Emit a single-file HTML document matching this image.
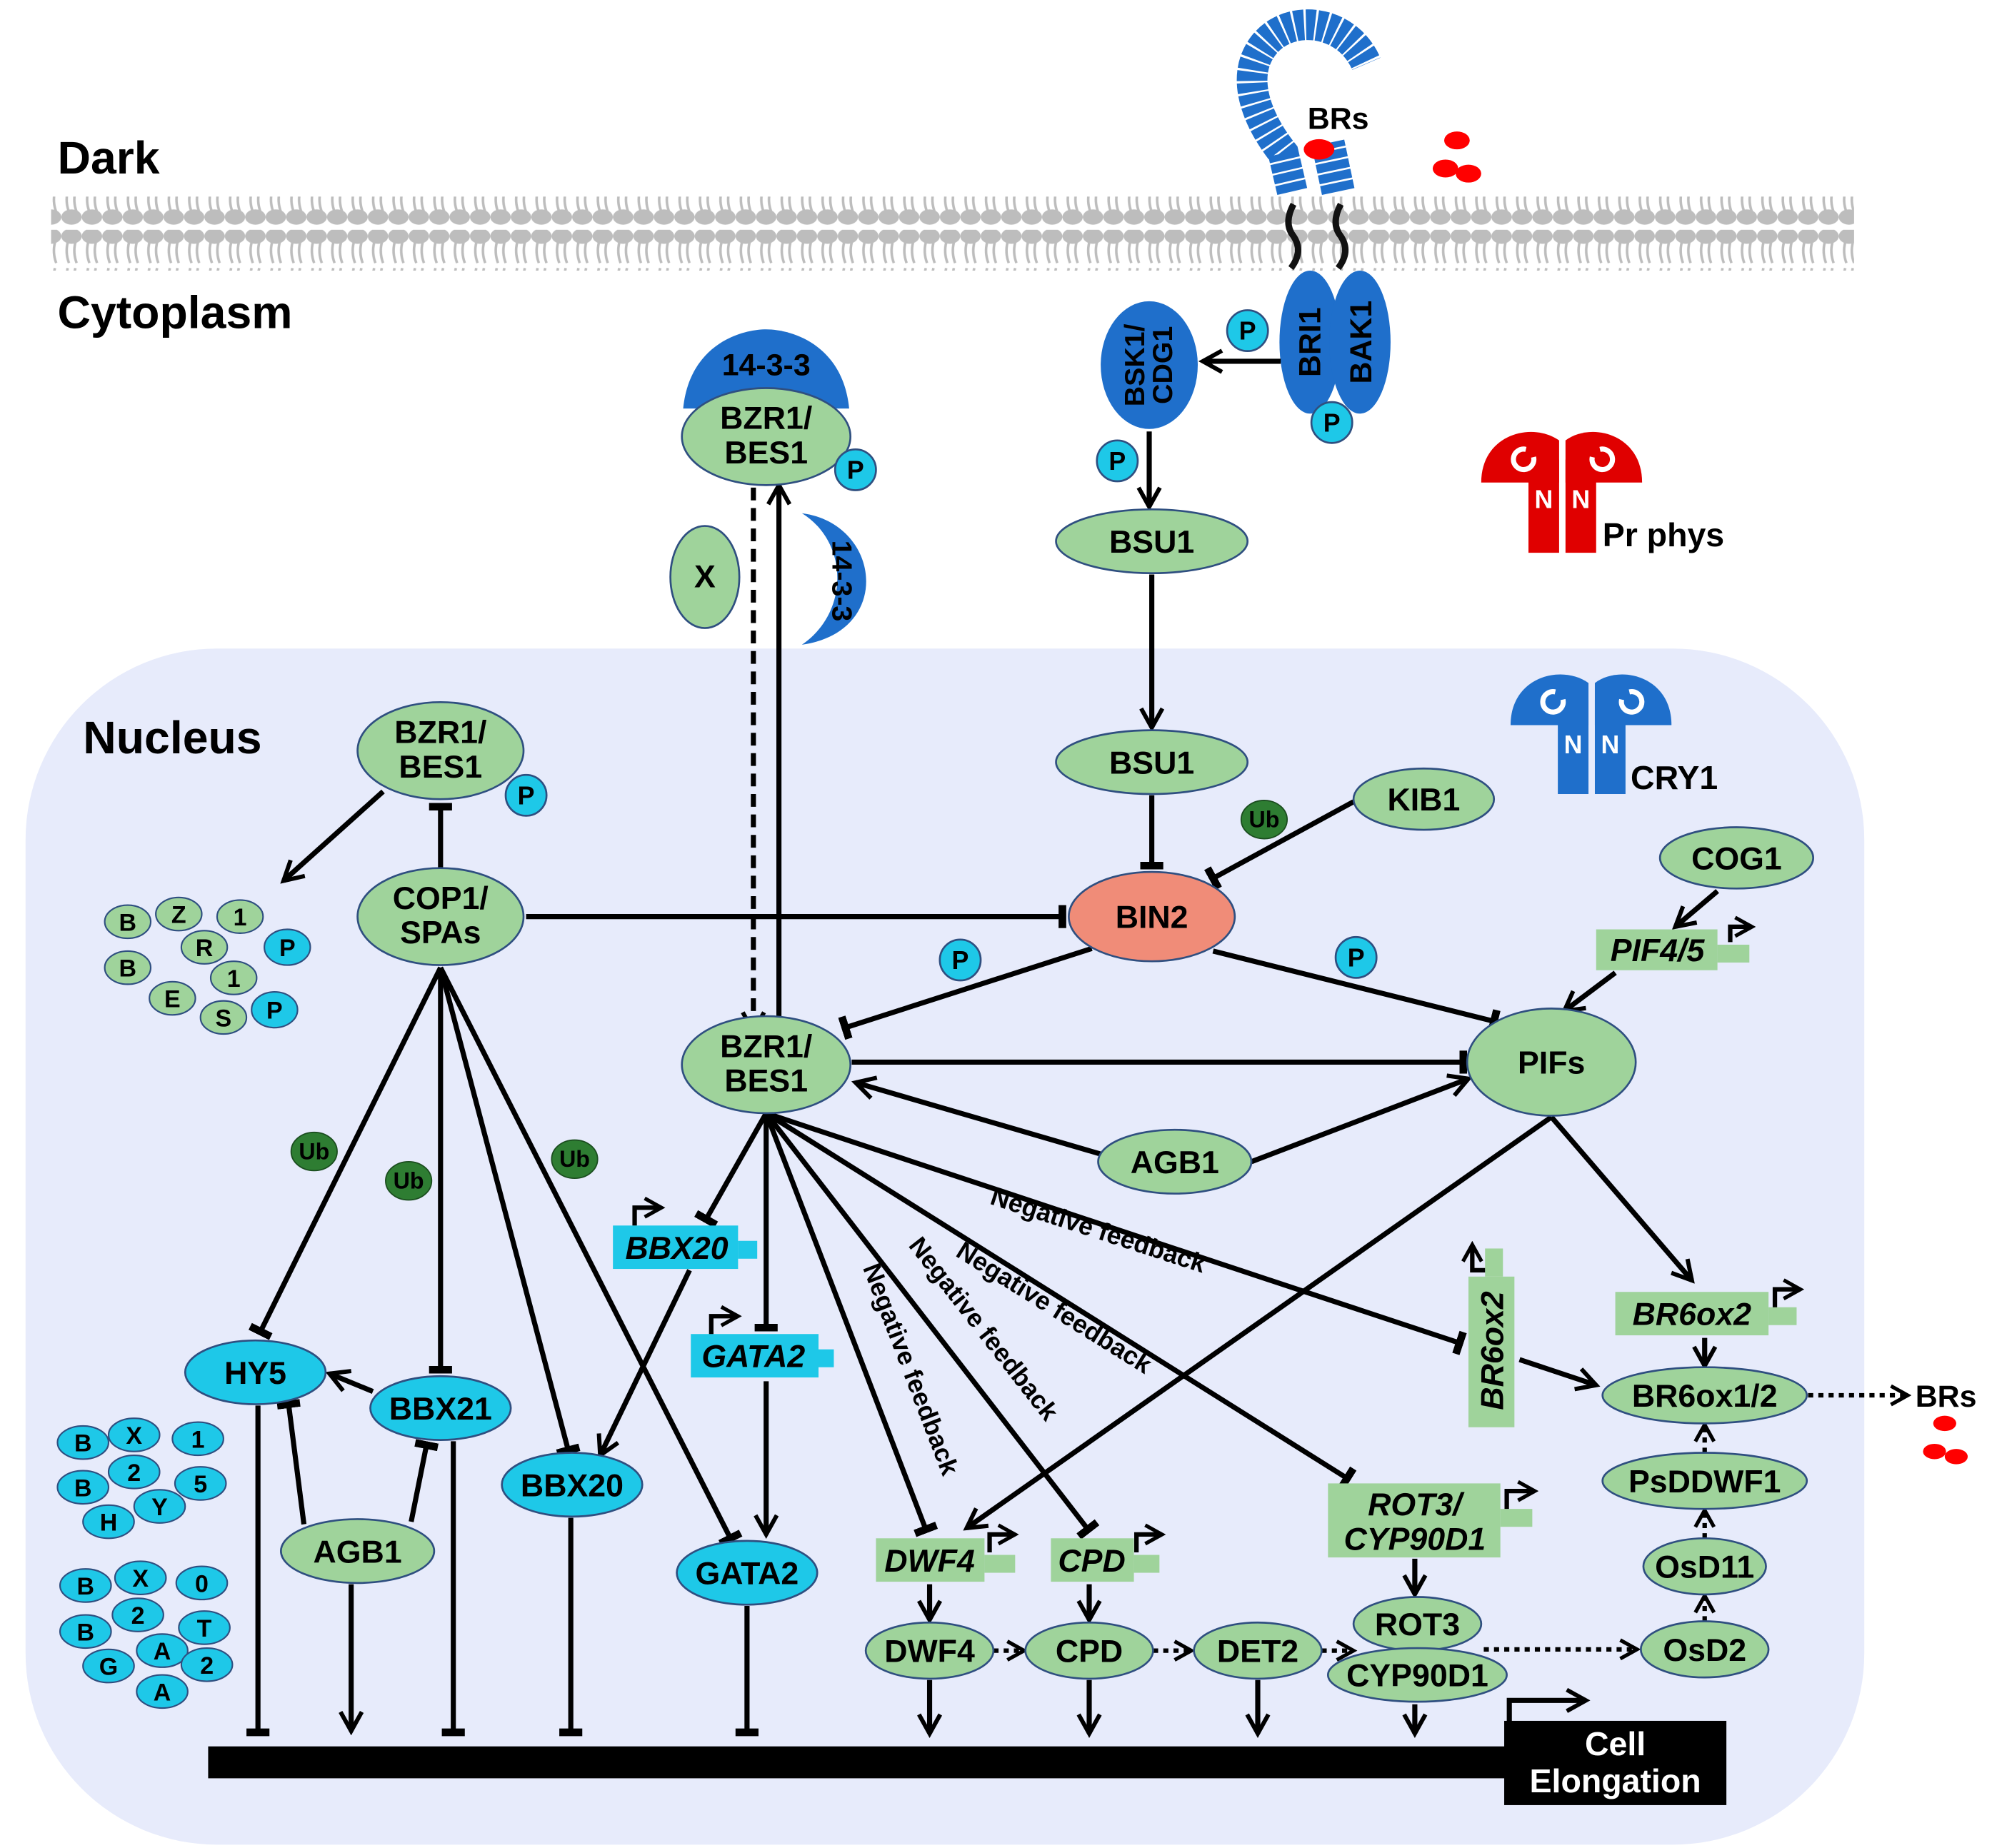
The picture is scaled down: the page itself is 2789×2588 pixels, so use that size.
<!DOCTYPE html>
<html><head><meta charset="utf-8"><style>
html,body{margin:0;padding:0;background:#fff;}
svg{display:block;}
text{font-family:"Liberation Sans",Arial,sans-serif;font-weight:bold;}
</style></head><body>
<svg width="2789" height="2588" viewBox="0 0 1560 1447.6" xmlns="http://www.w3.org/2000/svg">
<defs>
<marker id="a" viewBox="0 0 12 12" refX="10" refY="6" markerWidth="5" markerHeight="5" orient="auto" markerUnits="strokeWidth">
<path d="M1,1 L10,6 L1,11" fill="none" stroke="#000" stroke-width="2"/></marker>
<marker id="t" viewBox="0 0 4 12" refX="2" refY="6" markerWidth="1.5" markerHeight="8" orient="auto" markerUnits="strokeWidth">
<rect x="0" y="0" width="4" height="12" fill="#000"/></marker>
<pattern id="mem" x="0" y="0" width="16" height="60" patternUnits="userSpaceOnUse">
<ellipse cx="8" cy="5" rx="8" ry="6" fill="#bdbdbd"/>
<path d="M5,10 q-2,8 1,16 M11,10 q-2,8 1,16" stroke="#bdbdbd" stroke-width="2" fill="none"/>
<path d="M5,30 q-2,8 1,16 M11,30 q-2,8 1,16" stroke="#bdbdbd" stroke-width="2" fill="none"/>
<ellipse cx="8" cy="50" rx="8" ry="6" fill="#bdbdbd"/>
</pattern>
</defs>
<rect width="1560" height="1448" fill="#fff"/>
<rect x="20" y="508" width="1440" height="937" rx="150" fill="#e7ebfb"/>
<rect x="40" y="154" width="1412" height="58" fill="url(#mem)"/>
<text x="45" y="136" font-size="36">Dark</text>
<text x="45" y="257" font-size="36">Cytoplasm</text>
<text x="65" y="590" font-size="36">Nucleus</text>

<path d="M1012,150 L1005,120 C985,95 970,60 990,35 C1010,10 1055,15 1070,50" fill="none" stroke="#1f6fcb" stroke-width="24" stroke-dasharray="7 1.5"/>
<path d="M1048,150 L1040,112" fill="none" stroke="#1f6fcb" stroke-width="26" stroke-dasharray="7 1.5"/>
<ellipse cx="1033" cy="117" rx="12" ry="8" fill="#f00"/>
<text x="1048" y="101" font-size="24" text-anchor="middle">BRs</text>
<ellipse cx="1141" cy="110" rx="10" ry="7" fill="#f00"/>
<ellipse cx="1132" cy="132" rx="10" ry="7" fill="#f00"/>
<ellipse cx="1150" cy="136" rx="10" ry="7" fill="#f00"/>
<path d="M1013,160 q-8,15 0,25 q8,12 -2,25 M1050,160 q-8,15 0,25 q8,12 -2,25" stroke="#111" stroke-width="5" fill="none"/>
<ellipse cx="1026" cy="268" rx="24" ry="56" fill="#1f6fcb"/>
<ellipse cx="1065" cy="268" rx="24" ry="56" fill="#1f6fcb"/>
<text transform="translate(1034,268) rotate(-90)" font-size="24" text-anchor="middle">BRI1</text>
<text transform="translate(1074,268) rotate(-90)" font-size="24" text-anchor="middle">BAK1</text>
<ellipse cx="900" cy="286" rx="38" ry="50" fill="#1f6fcb"/>
<text transform="translate(896,286) rotate(-90)" font-size="22" text-anchor="middle">BSK1/</text>
<text transform="translate(918,286) rotate(-90)" font-size="22" text-anchor="middle">CDG1</text>

<g fill="#e00000">
<rect x="1197" y="360" width="24" height="73"/><rect x="1226" y="360" width="24" height="73"/>
<path d="M1160,378 C1160,340 1200,330 1221,345 L1221,378 Z"/>
<path d="M1286,378 C1286,340 1246,330 1226,345 L1226,378 Z"/>
</g>
<path d="M1195,352 a8,8 0 1,0 6,6 M1253,352 a8,8 0 1,1 -6,6" stroke="#fff" stroke-width="4" fill="none"/>
<text x="1209" y="398" font-size="20" fill="#fff" text-anchor="middle">N</text>
<text x="1238" y="398" font-size="20" fill="#fff" text-anchor="middle">N</text>
<text x="1255" y="428" font-size="26">Pr phys</text>
<g fill="#1f6fcb">
<rect x="1220" y="548" width="24" height="74"/><rect x="1249" y="548" width="24" height="74"/>
<path d="M1183,568 C1183,530 1223,520 1244,535 L1244,568 Z"/>
<path d="M1309,568 C1309,530 1269,520 1249,535 L1249,568 Z"/>
</g>
<path d="M1218,542 a8,8 0 1,0 6,6 M1276,542 a8,8 0 1,1 -6,6" stroke="#fff" stroke-width="4" fill="none"/>
<text x="1232" y="590" font-size="20" fill="#fff" text-anchor="middle">N</text>
<text x="1261" y="590" font-size="20" fill="#fff" text-anchor="middle">N</text>
<text x="1277" y="618" font-size="26">CRY1</text>

<path d="M535,320 C540,270 580,258 600,258 C620,258 660,270 665,320 Z" fill="#1f6fcb"/>
<text x="600" y="294" font-size="24" text-anchor="middle">14-3-3</text>
<path d="M628,402 C690,410 700,495 628,505 C665,480 665,425 628,402 Z" fill="#1f6fcb"/>
<text transform="translate(652,455) rotate(90)" font-size="22" text-anchor="middle">14-3-3</text>

<g stroke="#000" stroke-width="4" fill="none">
<line x1="1003" y1="283" x2="942" y2="283" marker-end="url(#a)"/>
<line x1="900" y1="338" x2="900" y2="397" marker-end="url(#a)"/>
<line x1="902" y1="450" x2="902" y2="570" marker-end="url(#a)"/>
<line x1="902" y1="623" x2="902" y2="678" marker-end="url(#t)"/>
<line x1="1060" y1="628" x2="950" y2="688" marker-end="url(#t)"/>
<line x1="412" y1="718" x2="832" y2="718" marker-end="url(#t)"/>
<line x1="855" y1="743" x2="662" y2="805" marker-end="url(#t)"/>
<line x1="950" y1="745" x2="1170" y2="800" marker-end="url(#t)"/>
<line x1="667" y1="832" x2="1146" y2="832" marker-end="url(#t)"/>
<line x1="862" y1="904" x2="670" y2="848" marker-end="url(#a)"/>
<line x1="980" y1="910" x2="1150" y2="845" marker-end="url(#a)"/>
<line x1="1345" y1="698" x2="1312" y2="726" marker-end="url(#a)"/>
<line x1="1265" y1="762" x2="1225" y2="792" marker-end="url(#a)"/>
<line x1="610" y1="808" x2="610" y2="380" marker-end="url(#a)"/>
<line x1="590" y1="382" x2="590" y2="808" stroke-dasharray="10 6" marker-end="url(#a)"/>
<line x1="300" y1="620" x2="222" y2="690" marker-end="url(#a)"/>
<line x1="345" y1="680" x2="345" y2="632" marker-end="url(#t)"/>
<line x1="345" y1="758" x2="204" y2="1043" marker-end="url(#t)"/>
<line x1="345" y1="758" x2="345" y2="1073" marker-end="url(#t)"/>
<line x1="345" y1="758" x2="445" y2="1136" marker-end="url(#t)"/>
<line x1="345" y1="758" x2="572" y2="1205" marker-end="url(#t)"/>
<line x1="600" y1="872" x2="553" y2="955" marker-end="url(#t)"/>
<line x1="540" y1="995" x2="470" y2="1140" marker-end="url(#a)"/>
<line x1="600" y1="872" x2="600" y2="1040" marker-end="url(#t)"/>
<line x1="600" y1="1082" x2="600" y2="1202" marker-end="url(#a)"/>
<line x1="600" y1="872" x2="725" y2="1198" marker-end="url(#t)"/>
<line x1="600" y1="872" x2="852" y2="1198" marker-end="url(#t)"/>
<line x1="600" y1="872" x2="1055" y2="1158" marker-end="url(#t)"/>
<line x1="600" y1="872" x2="1143" y2="1052" marker-end="url(#t)"/>
<line x1="1215" y1="875" x2="757" y2="1197" marker-end="url(#a)"/>
<line x1="1215" y1="875" x2="1325" y2="1003" marker-end="url(#a)"/>
<line x1="1190" y1="1065" x2="1250" y2="1085" marker-end="url(#a)"/>
<line x1="1335" y1="1048" x2="1335" y2="1070" marker-end="url(#a)"/>
<line x1="728" y1="1241" x2="728" y2="1269" marker-end="url(#a)"/>
<line x1="853" y1="1241" x2="853" y2="1269" marker-end="url(#a)"/>
<line x1="1108" y1="1221" x2="1108" y2="1249" marker-end="url(#a)"/>
<line x1="728" y1="1316" x2="728" y2="1358" marker-end="url(#a)"/>
<line x1="853" y1="1316" x2="853" y2="1358" marker-end="url(#a)"/>
<line x1="985" y1="1316" x2="985" y2="1358" marker-end="url(#a)"/>
<line x1="1108" y1="1335" x2="1108" y2="1358" marker-end="url(#a)"/>
<line x1="202" y1="1101" x2="202" y2="1357" marker-end="url(#t)"/>
<line x1="275" y1="1241" x2="275" y2="1356" marker-end="url(#a)"/>
<line x1="355" y1="1129" x2="355" y2="1357" marker-end="url(#t)"/>
<line x1="447" y1="1189" x2="447" y2="1357" marker-end="url(#t)"/>
<line x1="585" y1="1258" x2="585" y2="1357" marker-end="url(#t)"/>
<line x1="238" y1="1194" x2="226" y2="1100" marker-end="url(#t)"/>
<line x1="322" y1="1192" x2="334" y2="1132" marker-end="url(#t)"/>
<line x1="292" y1="1090" x2="258" y2="1076" marker-end="url(#a)"/>
<path d="M1182,1352 V1332 H1242" marker-end="url(#a)"/>
</g>
<g stroke="#000" stroke-width="3.5" fill="none" stroke-dasharray="4 4">
<line x1="1416" y1="1093" x2="1494" y2="1093" marker-end="url(#a)"/>
<line x1="1335" y1="1138" x2="1335" y2="1116" marker-end="url(#a)"/>
<line x1="1335" y1="1205" x2="1335" y2="1183" marker-end="url(#a)"/>
<line x1="1335" y1="1270" x2="1335" y2="1250" marker-end="url(#a)"/>
<line x1="1162" y1="1292" x2="1282" y2="1292" marker-end="url(#a)"/>
<line x1="778" y1="1293" x2="802" y2="1293" marker-end="url(#a)"/>
<line x1="903" y1="1293" x2="933" y2="1293" marker-end="url(#a)"/>
<line x1="1035" y1="1293" x2="1060" y2="1293" marker-end="url(#a)"/>
</g>

<g font-size="20">
<text transform="translate(707,1075) rotate(69)" text-anchor="middle">Negative feedback</text>
<text transform="translate(765,1045) rotate(52)" text-anchor="middle">Negative feedback</text>
<text transform="translate(822,1030) rotate(32)" text-anchor="middle">Negative feedback</text>
<text transform="translate(858,970) rotate(18)" text-anchor="middle">Negative feedback</text>
</g>

<rect x="163" y="1368" width="1020" height="25" fill="#000"/>
<rect x="1178" y="1348" width="174" height="66" fill="#000"/>
<text x="1265" y="1375" font-size="26" fill="#fff" text-anchor="middle">Cell</text>
<text x="1265" y="1404" font-size="26" fill="#fff" text-anchor="middle">Elongation</text>

<g fill="#9fd39b" stroke="#2f4f80" stroke-width="1.5">
<ellipse cx="600" cy="342" rx="66" ry="38"/>
<ellipse cx="552" cy="452" rx="27" ry="40"/>
<ellipse cx="902" cy="424" rx="75" ry="25"/>
<ellipse cx="345" cy="588" rx="65" ry="38"/>
<ellipse cx="345" cy="718" rx="65" ry="38"/>
<ellipse cx="902" cy="597" rx="75" ry="25"/>
<ellipse cx="1115" cy="626" rx="55" ry="24"/>
<ellipse cx="1360" cy="672" rx="60" ry="24"/>
<ellipse cx="1215" cy="832" rx="66" ry="42"/>
<ellipse cx="600" cy="834" rx="66" ry="38"/>
<ellipse cx="920" cy="910" rx="60" ry="25"/>
<ellipse cx="280" cy="1215" rx="60" ry="25"/>
<ellipse cx="1335" cy="1093" rx="80" ry="22"/>
<ellipse cx="1335" cy="1160" rx="80" ry="22"/>
<ellipse cx="1335" cy="1227" rx="48" ry="22"/>
<ellipse cx="1335" cy="1292" rx="50" ry="22"/>
<ellipse cx="728" cy="1293" rx="50" ry="22"/>
<ellipse cx="853" cy="1293" rx="50" ry="22"/>
<ellipse cx="985" cy="1293" rx="50" ry="22"/>
<ellipse cx="1110" cy="1272" rx="50" ry="21"/>
<ellipse cx="1110" cy="1312" rx="70" ry="21"/>
</g>
<ellipse cx="902" cy="718" rx="65" ry="35" fill="#f08c78" stroke="#2f4f80" stroke-width="1.5"/>
<g fill="#1ec8e8" stroke="#2f4f80" stroke-width="1.5">
<ellipse cx="200" cy="1075" rx="55" ry="25"/>
<ellipse cx="345" cy="1103" rx="55" ry="25"/>
<ellipse cx="448" cy="1163" rx="55" ry="25"/>
<ellipse cx="585" cy="1232" rx="55" ry="25"/>
</g>
<g font-size="25" text-anchor="middle">
<text x="600" y="336">BZR1/</text><text x="600" y="363">BES1</text>
<text x="552" y="460">X</text>
<text x="902" y="433">BSU1</text>
<text x="345" y="582">BZR1/</text><text x="345" y="609">BES1</text>
<text x="345" y="712">COP1/</text><text x="345" y="739">SPAs</text>
<text x="902" y="606">BSU1</text>
<text x="1115" y="635">KIB1</text>
<text x="1360" y="681">COG1</text>
<text x="902" y="727">BIN2</text>
<text x="1215" y="841">PIFs</text>
<text x="600" y="828">BZR1/</text><text x="600" y="855">BES1</text>
<text x="920" y="919">AGB1</text>
<text x="280" y="1224">AGB1</text>
<text x="200" y="1084">HY5</text>
<text x="345" y="1112">BBX21</text>
<text x="448" y="1172">BBX20</text>
<text x="585" y="1241">GATA2</text>
<text x="1335" y="1102">BR6ox1/2</text>
<text x="1335" y="1169">PsDDWF1</text>
<text x="1335" y="1236">OsD11</text>
<text x="1335" y="1301">OsD2</text>
<text x="728" y="1302">DWF4</text>
<text x="853" y="1302">CPD</text>
<text x="985" y="1302">DET2</text>
<text x="1110" y="1281">ROT3</text>
<text x="1110" y="1321">CYP90D1</text>
</g>
<text x="1500" y="1102" font-size="24">BRs</text>
<ellipse cx="1523" cy="1115" rx="9" ry="6" fill="#f00"/>
<ellipse cx="1515" cy="1137" rx="9" ry="6" fill="#f00"/>
<ellipse cx="1532" cy="1141" rx="9" ry="6" fill="#f00"/>

<g fill="#9fd39b">
<rect x="1250" y="728" width="95" height="32"/><rect x="1345" y="740" width="25" height="14"/>
<rect x="686" y="1205" width="85" height="34"/><rect x="771" y="1218" width="24" height="14"/>
<rect x="823" y="1205" width="65" height="34"/><rect x="888" y="1218" width="20" height="14"/>
<rect x="1040" y="1162" width="135" height="58"/><rect x="1175" y="1182" width="25" height="14"/>
<rect x="1265" y="1012" width="120" height="34"/><rect x="1385" y="1024" width="22" height="14"/>
<rect x="1150" y="1000" width="36" height="118"/><rect x="1163" y="978" width="14" height="22"/>
</g>
<g fill="#1ec8e8">
<rect x="480" y="960" width="98" height="34"/><rect x="578" y="972" width="15" height="14"/>
<rect x="541" y="1045" width="100" height="34"/><rect x="641" y="1057" width="12" height="14"/>
</g>
<g stroke="#000" stroke-width="3.5" fill="none">
<path d="M1355,738 V726 H1372" marker-end="url(#a)"/>
<path d="M497,960 V946 H518" marker-end="url(#a)"/>
<path d="M557,1045 V1031 H578" marker-end="url(#a)"/>
<path d="M775,1216 V1202 H795" marker-end="url(#a)"/>
<path d="M890,1216 V1202 H910" marker-end="url(#a)"/>
<path d="M1180,1182 V1168 H1202" marker-end="url(#a)"/>
<path d="M1390,1024 V1010 H1410" marker-end="url(#a)"/>
<path d="M1163,995 H1153 V975" marker-end="url(#a)"/>
</g>
<g font-size="25" font-style="italic" text-anchor="middle">
<text x="1298" y="753">PIF4/5</text>
<text x="530" y="986">BBX20</text>
<text x="590" y="1071">GATA2</text>
<text x="728" y="1231">DWF4</text>
<text x="855" y="1231">CPD</text>
<text x="1108" y="1187">ROT3/</text>
<text x="1108" y="1214">CYP90D1</text>
<text x="1325" y="1038">BR6ox2</text>
<text transform="translate(1177,1058) rotate(-90)">BR6ox2</text>
</g>

<g stroke="#2f4f80" stroke-width="1.5" fill="#1ec8e8">
<circle cx="977" cy="259" r="16"/><circle cx="1043" cy="331" r="16"/><circle cx="875" cy="361" r="16"/>
<circle cx="670" cy="368" r="16"/><circle cx="412" cy="623" r="16"/>
<circle cx="752" cy="752" r="16"/><circle cx="1062" cy="750" r="16"/>
</g>
<g font-size="20" text-anchor="middle">
<text x="977" y="266">P</text><text x="1043" y="338">P</text><text x="875" y="368">P</text>
<text x="670" y="375">P</text><text x="412" y="630">P</text><text x="752" y="759">P</text><text x="1062" y="757">P</text>
</g>
<g fill="#2e7d32" stroke="#1b4d1f" stroke-width="1">
<ellipse cx="246" cy="902" rx="18" ry="15"/><ellipse cx="320" cy="925" rx="18" ry="15"/>
<ellipse cx="450" cy="908" rx="18" ry="15"/><ellipse cx="990" cy="642" rx="18" ry="15"/>
</g>
<g font-size="18" text-anchor="middle">
<text x="246" y="908">Ub</text><text x="320" y="931">Ub</text><text x="450" y="914">Ub</text><text x="990" y="648">Ub</text>
</g>

<g stroke="#2f4f80" stroke-width="1.2">
<g fill="#9fd39b">
<ellipse cx="100" cy="722" rx="18" ry="13"/><ellipse cx="140" cy="716" rx="18" ry="13"/><ellipse cx="188" cy="718" rx="18" ry="13"/>
<ellipse cx="160" cy="742" rx="18" ry="13"/><ellipse cx="100" cy="758" rx="18" ry="13"/><ellipse cx="183" cy="766" rx="18" ry="13"/>
<ellipse cx="135" cy="782" rx="18" ry="13"/><ellipse cx="175" cy="797" rx="18" ry="13"/>
</g>
<g fill="#1ec8e8">
<ellipse cx="225" cy="742" rx="18" ry="14"/><ellipse cx="215" cy="791" rx="18" ry="14"/>
<ellipse cx="65" cy="1130" rx="20" ry="13"/><ellipse cx="105" cy="1124" rx="20" ry="13"/><ellipse cx="155" cy="1127" rx="20" ry="13"/>
<ellipse cx="105" cy="1153" rx="20" ry="13"/><ellipse cx="157" cy="1162" rx="20" ry="13"/><ellipse cx="65" cy="1165" rx="20" ry="13"/>
<ellipse cx="125" cy="1180" rx="20" ry="13"/><ellipse cx="85" cy="1192" rx="20" ry="13"/>
<ellipse cx="67" cy="1242" rx="20" ry="13"/><ellipse cx="110" cy="1236" rx="20" ry="13"/><ellipse cx="158" cy="1240" rx="20" ry="13"/>
<ellipse cx="108" cy="1265" rx="20" ry="13"/><ellipse cx="160" cy="1275" rx="20" ry="13"/><ellipse cx="67" cy="1278" rx="20" ry="13"/>
<ellipse cx="127" cy="1293" rx="20" ry="13"/><ellipse cx="162" cy="1304" rx="20" ry="13"/><ellipse cx="85" cy="1305" rx="20" ry="13"/>
<ellipse cx="127" cy="1325" rx="20" ry="13"/>
</g>
</g>
<g font-size="19" text-anchor="middle">
<text x="100" y="729">B</text><text x="140" y="723">Z</text><text x="188" y="725">1</text><text x="160" y="749">R</text>
<text x="225" y="749">P</text><text x="100" y="765">B</text><text x="183" y="773">1</text><text x="135" y="789">E</text>
<text x="175" y="804">S</text><text x="215" y="798">P</text>
<text x="65" y="1137">B</text><text x="105" y="1131">X</text><text x="155" y="1134">1</text><text x="105" y="1160">2</text>
<text x="157" y="1169">5</text><text x="65" y="1172">B</text><text x="125" y="1187">Y</text><text x="85" y="1199">H</text>
<text x="67" y="1249">B</text><text x="110" y="1243">X</text><text x="158" y="1247">0</text><text x="108" y="1272">2</text>
<text x="160" y="1282">T</text><text x="67" y="1285">B</text><text x="127" y="1300">A</text><text x="162" y="1311">2</text>
<text x="85" y="1312">G</text><text x="127" y="1332">A</text>
</g>
</svg>
</body></html>
